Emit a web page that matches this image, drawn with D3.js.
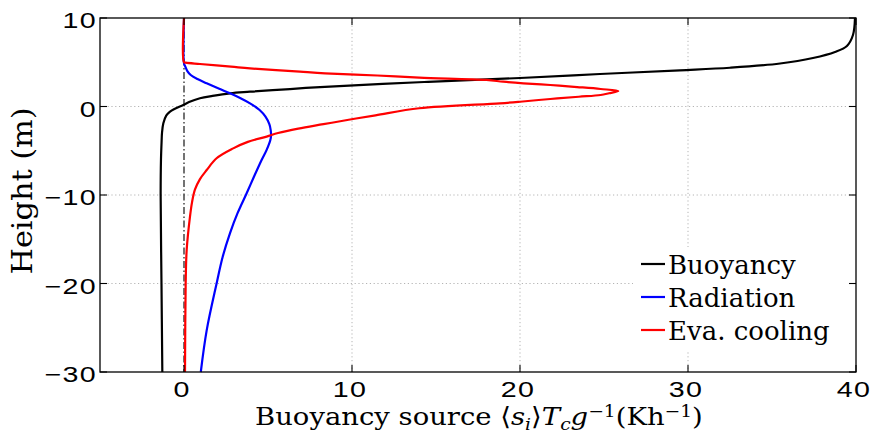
<!DOCTYPE html>
<html>
<head>
<meta charset="utf-8">
<script src="https://cdn.jsdelivr.net/npm/d3@7"></script>
<style>
  body { margin: 0; background: #fff; }
  svg { display: block; }
  .serif { font-family: "DejaVu Serif", "Liberation Serif", serif; }
  .sans { font-family: "Liberation Sans", "DejaVu Sans", sans-serif; }
</style>
</head>
<body>
<div id="chart"></div>
<script>
// profils verticaux des sources de flottabilité
const buoyancyH = [10, 8.08, 6.84, 6.16, 5.48, 4.86, 4.38, 4.09, 3.67, 3.22, 2.77, 2.2, 1.67, 1.49, 1.2, 0.93, 0.5, 0.17, -0.3, -0.6, -1.0, -1.9, -3, -3.8, -6, -10, -20, -30];
const buoyancyX = [39.94, 39.82, 39.46, 38.75, 37.44, 35.48, 32.5, 29.52, 24.76, 20.0, 14.3, 8.1, 3.93, 2.74, 1.7, 0.95, 0.3, -0.04, -0.6, -0.85, -1.05, -1.23, -1.31, -1.33, -1.37, -1.39, -1.34, -1.29];

const radiationH = [10, 4.9, 4.5, 4.0, 3.56, 3.1, 2.62, 2.0, 1.49, 0.9, 0.36, -0.4, -1.15, -2.0, -2.66, -3.3, -3.79, -4.9, -6.05, -8, -9.8, -12, -14.3, -17, -20, -25.3, -30];
const radiationX = [0, 0, 0.08, 0.2, 0.4, 0.8, 1.35, 2.1, 2.74, 3.4, 3.93, 4.5, 4.85, 5.08, 5.16, 5.18, 5.14, 4.92, 4.62, 4.15, 3.73, 3.2, 2.74, 2.3, 1.94, 1.35, 1.0];

const coolingH = [10, 5.0, 4.95, 4.8, 4.5, 4.31, 3.93, 3.75, 3.5, 3.26, 3.0, 2.8, 2.62, 2.43, 2.2, 1.98, 1.75, 1.5, 1.3, 1.1, 0.85, 0.54, 0.36, -0.2, -1.0, -1.5, -2.0, -2.5, -3.0, -3.4, -4.0, -4.73, -5.85, -7.18, -8.2, -9.4, -10.8, -12.4, -16.2, -20, -30];
const coolingX = [0, 0, 0.1, 0.95, 2.8, 3.93, 6.9, 8.4, 11.5, 14.0, 18.0, 19.0, 20.2, 21.8, 23.4, 24.8, 25.85, 25.3, 24.8, 23.5, 21.8, 20.0, 18.8, 14.0, 11.4, 9.8, 8.3, 6.8, 5.6, 4.92, 3.8, 2.93, 1.94, 1.35, 0.95, 0.65, 0.48, 0.36, 0.16, 0.1, 0.06];

const seriesNames = ["Buoyancy", "Radiation", "Eva. cooling"];
const seriesColors = ["#000000", "#0000ff", "#ff0000"];

const xTicks = [0, 10, 20, 30, 40];
const yTicks = [10, 0, -10, -20, -30];
const xGrid = [10, 20, 30];
const yGrid = [0, -10, -20];

const width = 871, height = 433;
const margin = { left: 100, right: 15, top: 18, bottom: 61 };

const svg = d3.select("#chart")
    .append("svg")
    .attr("width", width)
    .attr("height", height);

const x = d3.scaleLinear().domain([-5, 40]).range([margin.left, width - margin.right]);
const y = d3.scaleLinear().domain([-30, 10]).range([height - margin.bottom, margin.top]);

const [x0, x1] = x.range();
const [y0, y1] = [y(10), y(-30)];

const series = [
    { name: seriesNames[0], color: seriesColors[0], pts: d3.zip(buoyancyX, buoyancyH) },
    { name: seriesNames[1], color: seriesColors[1], pts: d3.zip(radiationX, radiationH) },
    { name: seriesNames[2], color: seriesColors[2], pts: d3.zip(coolingX, coolingH) }
];

// grille pointillée
svg.append("g")
    .selectAll("line")
    .data(xGrid)
    .join("line")
    .attr("x1", d => x(d)).attr("x2", d => x(d))
    .attr("y1", y0).attr("y2", y1)
    .attr("stroke", "#b4b4b4")
    .attr("stroke-width", 1)
    .attr("stroke-dasharray", "1.2,2.6");

svg.append("g")
    .selectAll("line")
    .data(yGrid)
    .join("line")
    .attr("x1", x0).attr("x2", x1)
    .attr("y1", d => y(d)).attr("y2", d => y(d))
    .attr("stroke", "#b4b4b4")
    .attr("stroke-width", 1)
    .attr("stroke-dasharray", "1.2,2.6");

// ligne x = 0
svg.append("line")
    .attr("x1", x(0)).attr("x2", x(0))
    .attr("y1", y0).attr("y2", y1)
    .attr("stroke", "#000")
    .attr("stroke-width", 1.1)
    .attr("stroke-dasharray", "7,2.5,1.5,2.5");

const line = d3.line()
    .x(d => x(d[0]))
    .y(d => y(d[1]))
    .curve(d3.curveCatmullRom.alpha(0.5));

svg.append("g")
    .selectAll("path")
    .data(series)
    .join("path")
    .attr("d", d => line(d.pts))
    .attr("fill", "none")
    .attr("stroke", d => d.color)
    .attr("stroke-width", 2.2)
    .attr("stroke-linejoin", "round");

// légende
const legend = svg.append("g");
legend.append("rect")
    .attr("x", 633).attr("y", 247)
    .attr("width", x1 - 634).attr("height", 104)
    .attr("fill", "#fff");

const legendRows = legend.selectAll("g")
    .data(series)
    .join("g")
    .attr("transform", (d, i) => `translate(641, ${264 + i * 33})`);

legendRows.append("line")
    .attr("x1", 0).attr("x2", 24)
    .attr("stroke", d => d.color)
    .attr("stroke-width", 2.2);

legendRows.append("text")
    .attr("class", "serif")
    .attr("font-size", 26)
    .attr("transform", "translate(27, 10)")
    .text(d => d.name);

// cadre et graduations intérieures
svg.append("rect")
    .attr("x", x0).attr("y", y0)
    .attr("width", x1 - x0).attr("height", y1 - y0)
    .attr("fill", "none")
    .attr("stroke", "#000")
    .attr("stroke-width", 1.3);

const tickLen = 7;
const ticks = svg.append("g").attr("stroke", "#000").attr("stroke-width", 1.1);
xTicks.forEach(t => {
    ticks.append("line").attr("x1", x(t)).attr("x2", x(t)).attr("y1", y0).attr("y2", y0 + tickLen);
    ticks.append("line").attr("x1", x(t)).attr("x2", x(t)).attr("y1", y1).attr("y2", y1 - tickLen);
});
yTicks.forEach(t => {
    ticks.append("line").attr("x1", x0).attr("x2", x0 + tickLen).attr("y1", y(t)).attr("y2", y(t));
    ticks.append("line").attr("x1", x1).attr("x2", x1 - tickLen).attr("y1", y(t)).attr("y2", y(t));
});

const fmt = d => d < 0 ? "\u2212" + Math.abs(d) : String(d);

svg.append("g")
    .selectAll("text")
    .data(xTicks)
    .join("text")
    .attr("class", "sans")
    .attr("font-size", 22)
    .attr("letter-spacing", 1)
    .attr("text-anchor", "middle")
    .attr("transform", d => `translate(${x(d) - 2}, ${y1 + 25}) scale(1.3, 1)`)
    .text(fmt);

svg.append("g")
    .selectAll("text")
    .data(yTicks)
    .join("text")
    .attr("class", "sans")
    .attr("font-size", 22)
    .attr("letter-spacing", 1)
    .attr("text-anchor", "end")
    .attr("transform", d => `translate(97, ${y(d) + 10}) scale(1.3, 1)`)
    .text(fmt);

// titres des axes
const xTitle = svg.append("text")
    .attr("class", "serif")
    .attr("font-size", 25);
xTitle.append("tspan").text("Buoyancy source \u27E8");
xTitle.append("tspan").attr("font-style", "italic").text("s");
xTitle.append("tspan").attr("font-style", "italic").attr("font-size", 17).attr("dy", 5).text("i");
xTitle.append("tspan").attr("dy", -5).text("\u27E9");
xTitle.append("tspan").attr("font-style", "italic").text("T");
xTitle.append("tspan").attr("font-style", "italic").attr("font-size", 17).attr("dy", 5).text("c");
xTitle.append("tspan").attr("font-style", "italic").attr("dy", -5).text("g");
xTitle.append("tspan").attr("font-size", 17).attr("dy", -8).text("\u22121");
xTitle.append("tspan").attr("dy", 8).text("(Kh");
xTitle.append("tspan").attr("font-size", 17).attr("dy", -8).text("\u22121");
xTitle.append("tspan").attr("dy", 8).text(")");
const xw = xTitle.node().getBBox().width;
xTitle.attr("transform", `translate(255, 425) scale(${448 / xw}, 1)`);

const yTitle = svg.append("text")
    .attr("class", "serif")
    .attr("font-size", 27)
    .attr("text-anchor", "middle")
    .text("Height (m)");
const yw = yTitle.node().getBBox().width;
yTitle.attr("transform", `translate(32, 191) rotate(-90) scale(${167 / yw}, 1)`);
</script>
</body>
</html>
